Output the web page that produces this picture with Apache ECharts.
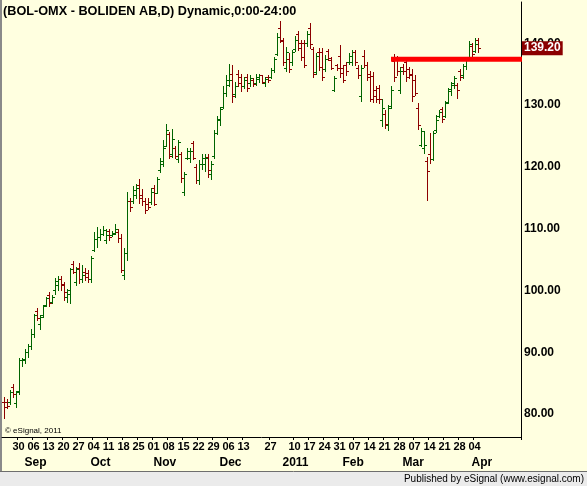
<!DOCTYPE html>
<html>
<head>
<meta charset="utf-8">
<script src="https://cdn.jsdelivr.net/npm/echarts@6/dist/echarts.min.js"></script>
<style>
html, body { margin: 0; padding: 0; background: #FFFFE0; }
#chart { width: 587px; height: 486px; }
</style>
</head>
<body>
<div id="chart"></div>
<script>
// BOL-OMX daily bars, 2010-08-23 .. 2011-04-05
var firstDay = '2010-08-23';
var lastDay = '2011-04-05';
var holidays = ['2010-12-24', '2010-12-31', '2011-01-06'];

var opens = [82.0,82.0,82.0,84.3,81.8,83.8,88.8,88.8,90.0,91.0,93.0,96.6,94.5,96.0,97.6,99.2,98.2,100.0,100.8,101.9,
  100.8,99.0,99.5,104.3,101.4,103.6,101.8,103.0,102.8,101.8,106.5,108.4,108.6,109.2,108.2,109.6,108.9,109.2,109.5,108.5,
  102.5,106.0,114.5,114.4,115.5,117.0,115.5,114.5,114.0,114.3,116.5,115.8,119.5,120.5,123.3,125.3,122.0,123.0,121.2,122.0,
  116.0,121.5,121.5,123.8,120.0,117.8,120.5,120.5,121.6,118.8,121.8,125.5,127.5,129.6,132.0,133.3,135.0,131.8,135.0,134.5,
  133.0,134.6,133.5,134.0,133.5,134.2,134.8,133.5,134.6,134.5,135.6,138.3,142.5,140.3,136.0,137.5,137.0,139.0,141.5,140.0,
  140.0,140.0,142.5,139.0,135.3,138.5,138.5,135.8,138.8,137.3,132.5,136.5,138.0,136.0,136.5,137.0,137.0,138.5,136.0,131.5,
  138.0,136.5,135.0,134.7,132.5,132.8,127.5,128.5,126.8,129.8,137.2,137.5,132.5,136.2,137.0,135.8,135.0,134.0,129.5,123.5,
  123.0,121.0,122.0,121.2,126.0,128.2,129.3,128.3,130.5,132.2,133.2,133.3,135.5,134.8,136.3,137.5,139.5,138.8,140.5];
var highs = [82.8,82.5,83.9,84.9,83.8,89.0,89.0,90.6,91.3,93.7,96.2,97.1,96.0,97.6,99.0,99.7,99.3,102.0,102.3,102.3,
  101.4,100.2,103.6,104.8,103.8,104.4,104.1,103.7,103.3,105.5,109.5,110.3,109.9,110.4,109.9,109.9,109.6,110.7,109.9,109.2,
  106.8,116.0,114.9,116.9,117.2,118.0,116.4,114.9,114.9,116.5,117.1,118.4,121.4,124.3,126.9,125.7,126.2,123.4,124.4,122.4,
  119.2,123.0,123.0,124.1,120.5,121.1,122.1,122.1,122.1,121.0,126.0,128.2,129.6,133.0,134.9,136.7,136.5,133.8,135.7,135.0,
  134.5,135.1,134.9,134.3,135.0,135.1,134.9,134.6,134.9,136.0,137.8,141.6,143.6,140.8,139.4,138.4,138.9,141.1,142.0,140.5,
  140.6,141.9,143.2,139.4,138.4,139.2,139.2,138.1,139.1,137.7,134.7,136.7,139.7,136.5,137.0,138.4,138.9,138.9,136.5,136.4,
  138.9,137.0,135.5,135.4,133.0,133.3,131.0,129.2,130.0,133.1,138.2,138.0,136.2,136.6,137.7,136.2,135.9,134.9,130.4,126.3,
  125.8,121.6,125.4,125.8,128.4,129.2,129.7,130.6,132.8,133.8,134.7,133.5,135.8,136.7,137.7,140.4,140.0,140.9,140.9];
var lows = [79.3,80.9,81.7,82.8,81.2,83.3,87.7,88.2,89.3,90.6,92.5,95.2,93.7,95.7,97.4,97.5,97.9,99.5,100.1,100.1,
  98.4,98.2,98.0,102.8,100.9,101.2,101.4,101.7,101.4,101.4,106.3,107.1,108.2,109.0,107.6,108.2,108.8,109.1,107.9,102.9,
  101.8,104.9,112.9,114.2,114.9,114.2,113.8,112.6,113.1,114.0,113.8,115.7,119.2,120.1,123.3,121.4,121.6,121.4,120.8,117.6,
  115.4,121.2,120.7,121.2,117.4,117.2,119.6,119.4,118.3,118.1,121.4,125.3,126.8,129.5,131.5,133.0,130.5,131.3,133.0,132.2,
  132.7,132.2,133.0,133.0,133.2,133.8,133.5,133.0,133.8,134.3,135.4,138.1,140.2,136.4,135.5,135.3,136.5,138.7,138.9,137.3,
  136.2,139.6,139.3,134.6,135.0,135.7,134.0,135.5,137.3,135.8,132.2,135.7,134.6,133.7,134.9,136.7,136.5,136.4,134.3,130.6,
  136.2,134.0,130.6,130.5,130.5,130.3,126.6,126.3,126.0,129.5,133.9,134.9,131.9,135.1,133.9,134.3,130.6,131.6,126.2,123.3,
  122.3,114.6,120.6,121.1,125.6,128.0,127.2,128.0,130.3,131.7,132.8,131.2,134.0,134.4,135.8,137.3,137.6,138.6,138.5];
var closes = [81.2,81.3,83.5,83.2,83.6,88.8,88.9,90.0,91.0,93.0,96.0,95.6,95.7,97.4,98.8,98.0,99.0,101.6,101.9,101.0,
  99.8,100.0,103.4,103.0,103.5,101.8,102.5,102.2,101.8,105.2,108.4,108.6,109.2,109.8,109.0,108.6,109.3,110.0,108.5,103.3,
  106.0,114.5,113.5,116.3,116.5,115.0,114.5,113.0,113.5,116.0,114.0,118.0,121.0,123.0,126.0,121.8,124.5,121.8,124.0,118.2,
  118.8,122.5,122.5,121.5,117.8,120.5,121.5,121.5,119.5,120.5,125.5,127.8,129.3,132.0,134.0,134.0,131.5,133.0,133.5,133.0,
  134.0,132.8,134.3,133.4,134.5,134.8,133.8,134.2,134.0,135.6,137.5,141.0,140.6,137.0,138.5,135.8,138.5,140.5,139.2,137.8,
  136.5,141.5,139.8,135.0,138.0,136.2,134.5,137.5,137.6,136.0,134.3,136.0,135.2,134.0,135.5,138.0,138.5,137.0,134.8,136.0,
  136.5,134.5,131.0,131.5,131.0,131.0,129.5,127.0,129.5,132.5,134.5,135.5,135.5,135.5,134.5,134.8,131.5,132.0,126.8,125.8,
  123.6,119.3,121.2,125.5,127.5,128.8,127.7,130.3,132.6,133.5,134.3,132.5,134.5,136.3,137.4,139.8,138.3,139.8,139.2];

// weekly day labels and month labels under the axis
var dayTicks = ['2010-08-30','2010-09-06','2010-09-13','2010-09-20','2010-09-27','2010-10-04','2010-10-11','2010-10-18',
  '2010-10-25','2010-11-01','2010-11-08','2010-11-15','2010-11-22','2010-11-29','2010-12-06','2010-12-13','2010-12-27',
  '2011-01-10','2011-01-17','2011-01-24','2011-01-31','2011-02-07','2011-02-14','2011-02-21','2011-02-28','2011-03-07',
  '2011-03-14','2011-03-21','2011-03-28','2011-04-04'];
var monthStarts = ['2010-09-01','2010-10-01','2010-11-01','2010-12-01','2011-01-03','2011-02-01','2011-03-01','2011-04-01'];
var monthNames = ['Sep','Oct','Nov','Dec','2011','Feb','Mar','Apr'];
var priceTicks = [80, 90, 100, 110, 120, 130, 140];

var resistStart = '2011-02-24';
var resistLevel = 137.4;
var padBars = 14;

var GREEN = '#006400', RED = '#8C0000';
var FONT = 'Liberation Sans, Arial, sans-serif';

function tradingDays(from, to) {
  var out = [];
  var d = new Date(from + 'T00:00:00Z');
  var end = new Date(to + 'T00:00:00Z');
  while (d <= end) {
    var s = d.toISOString().slice(0, 10);
    var wd = d.getUTCDay();
    if (wd !== 0 && wd !== 6 && holidays.indexOf(s) < 0) out.push(s);
    d.setUTCDate(d.getUTCDate() + 1);
  }
  return out;
}

var days = tradingDays(firstDay, lastDay);
var cats = days.slice();
for (var p = 0; p < padBars; p++) cats.push('pad' + p);

var bars = [];
for (var i = 0; i < days.length; i++) {
  bars.push([i, opens[i], highs[i], lows[i], closes[i]]);
}
var lastClose = closes[closes.length - 1];
var resistIdx = days.indexOf(resistStart);

function renderOhlc(params, api) {
  var idx = api.value(0);
  var o = api.value(1), c = api.value(4);
  var pH = api.coord([idx, api.value(2)]);
  var pL = api.coord([idx, api.value(3)]);
  var yO = Math.round(api.coord([idx, o])[1]) + 0.5;
  var yC = Math.round(api.coord([idx, c])[1]) + 0.5;
  var x = Math.round(pH[0]) + 0.5;
  var col = c >= o ? GREEN : RED;
  var st = { stroke: col, lineWidth: 1 };
  return {
    type: 'group',
    children: [
      { type: 'line', shape: { x1: x, y1: Math.round(pH[1]), x2: x, y2: Math.round(pL[1]) + 1 }, style: st },
      { type: 'line', shape: { x1: x - 2.5, y1: yO, x2: x, y2: yO }, style: st },
      { type: 'line', shape: { x1: x, y1: yC, x2: x + 2.5, y2: yC }, style: st }
    ]
  };
}

var myChart = echarts.init(document.getElementById('chart'));
var option = {
  backgroundColor: '#FFFFE0',
  animation: false,
  title: {
    text: '(BOL-OMX - BOLIDEN AB,D) Dynamic,0:00-24:00',
    left: 3, top: 5, padding: 0,
    textStyle: { fontSize: 12.7, fontWeight: 'bold', color: '#000', fontFamily: FONT }
  },
  grid: { left: 2, right: 66, top: 2, bottom: 49 },
  xAxis: [
    {
      type: 'category', data: cats, boundaryGap: true, position: 'bottom',
      axisLine: { lineStyle: { color: '#000', width: 1 } },
      axisTick: {
        show: true, length: 3, lineStyle: { color: '#000' },
        interval: function (i, v) { return dayTicks.indexOf(v) >= 0; }
      },
      axisLabel: {
        interval: function (i, v) { return dayTicks.indexOf(v) >= 0; },
        formatter: function (v) { return v.slice(8); },
        fontSize: 11, fontWeight: 'bold', color: '#000', fontFamily: FONT, margin: 4
      },
      splitLine: { show: false }
    },
    {
      type: 'category', data: cats, boundaryGap: true, position: 'bottom', offset: 0,
      axisLine: { show: false }, axisTick: { show: false }, splitLine: { show: false },
      axisLabel: {
        interval: function (i, v) { return monthStarts.indexOf(v) >= 0; },
        formatter: function (v) { return monthNames[monthStarts.indexOf(v)]; },
        align: 'left',
        fontSize: 12, fontWeight: 'bold', color: '#000', fontFamily: FONT, margin: 20
      }
    }
  ],
  yAxis: {
    type: 'value', position: 'right',
    min: 76.28, max: 146.67,
    axisLine: { show: true, lineStyle: { color: '#000', width: 1 } },
    axisTick: { show: false },
    splitLine: { show: false },
    axisLabel: {
      customValues: priceTicks,
      formatter: function (v) { return v.toFixed(2); },
      fontSize: 12, fontWeight: 'bold', color: '#000', fontFamily: FONT, margin: 3
    }
  },
  series: [
    {
      type: 'custom',
      renderItem: renderOhlc,
      encode: { x: 0, y: [1, 2, 3, 4] },
      data: bars,
      z: 2
    },
    {
      type: 'line',
      data: [[resistIdx, resistLevel], [cats.length - 1, resistLevel]],
      symbol: 'none',
      lineStyle: { color: '#FF0000', width: 5, cap: 'square' },
      z: 3,
      markLine: {
        silent: true,
        symbol: 'none',
        lineStyle: { color: 'transparent', width: 0 },
        data: [{ yAxis: lastClose }],
        label: {
          position: 'end', distance: 1,
          formatter: lastClose.toFixed(2),
          backgroundColor: '#8B0000', color: '#fff',
          fontSize: 12, fontWeight: 'bold', fontFamily: FONT,
          padding: [1, 2, 1, 2]
        },
        z: 10
      }
    }
  ],
  graphic: [
    { type: 'rect', shape: { x: 0, y: 0, width: 2, height: 472 }, style: { fill: '#8a8a8a' } },
    { type: 'rect', shape: { x: 0, y: 472, width: 587, height: 14 }, style: { fill: '#EBEBEB' } },
    { type: 'line', shape: { x1: 0, y1: 471.5, x2: 587, y2: 471.5 }, style: { stroke: '#6e6e6e', lineWidth: 1 } },
    {
      type: 'text', x: 584, y: 479,
      style: { text: 'Published by eSignal (www.esignal.com)', fill: '#000', fontSize: 10, fontFamily: FONT,
        textAlign: 'right', textVerticalAlign: 'middle' }
    },
    {
      type: 'text', x: 5, y: 431,
      style: { text: '\u00a9 eSignal, 2011', fill: '#000', fontSize: 8, fontFamily: FONT,
        textAlign: 'left', textVerticalAlign: 'middle' }
    }
  ]
};
myChart.setOption(option);
window.onresize = myChart.resize;
</script>
</body>
</html>
